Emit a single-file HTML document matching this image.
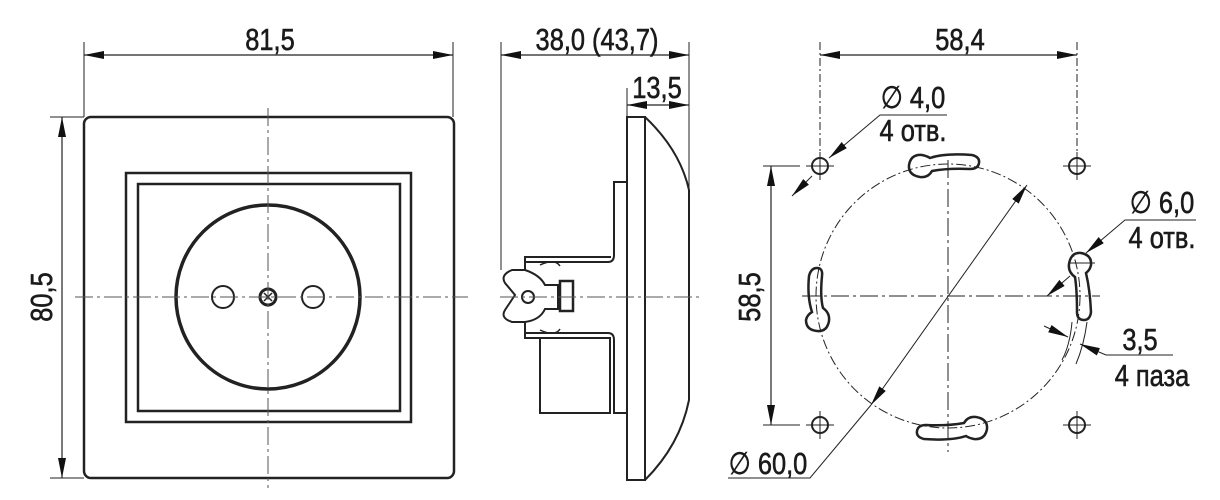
<!DOCTYPE html>
<html><head><meta charset="utf-8"><style>
html,body{margin:0;padding:0;background:#fff;}
svg{display:block;}
text{font-family:"Liberation Sans",sans-serif;fill:#1a1a1a;stroke:#1a1a1a;stroke-width:0.6;}
</style></head><body>
<svg width="1220" height="500" viewBox="0 0 1220 500" xmlns="http://www.w3.org/2000/svg">
<defs>
<marker id="a" viewBox="0 0 20 8" refX="20" refY="4" markerWidth="20" markerHeight="8" markerUnits="userSpaceOnUse" orient="auto-start-reverse"><path d="M0,0 L20,4 L0,8 Z" fill="#111"/></marker>
</defs>
<g stroke="#222" fill="none">
<!-- LEFT VIEW -->
<line x1="84" y1="42" x2="84" y2="117" stroke-width="1"/>
<line x1="453" y1="42" x2="453" y2="117" stroke-width="1"/>
<line x1="84" y1="55" x2="453" y2="55" stroke-width="1.2" marker-start="url(#a)" marker-end="url(#a)"/>
<line x1="50" y1="117" x2="84" y2="117" stroke-width="1"/>
<line x1="50" y1="478" x2="84" y2="478" stroke-width="1"/>
<line x1="62" y1="117" x2="62" y2="478" stroke-width="1.2" marker-start="url(#a)" marker-end="url(#a)"/>
<rect x="84" y="117" width="370" height="361" rx="7" stroke-width="2.5"/>
<rect x="126" y="173" width="285" height="249" stroke-width="2.5"/>
<rect x="138" y="184" width="262" height="227" stroke-width="2.5"/>
<circle cx="268" cy="297" r="92" stroke-width="3.5"/>
<circle cx="223" cy="297" r="11" stroke-width="2"/>
<circle cx="313" cy="297" r="11" stroke-width="2"/>
<circle cx="268" cy="297" r="8" stroke-width="3"/>
<path d="M264,293 L272,301 M272,293 L264,301" stroke-width="1.5"/>
<line x1="268" y1="108" x2="268" y2="488" stroke-width="1" stroke-dasharray="18,4,3,4" stroke="#555"/>
<line x1="75" y1="297" x2="468" y2="297" stroke-width="1" stroke-dasharray="18,4,3,4" stroke="#555"/>

<!-- SIDE VIEW -->
<line x1="501" y1="42" x2="501" y2="270" stroke-width="1"/>
<line x1="689" y1="42" x2="689" y2="190" stroke-width="1"/>
<line x1="627" y1="88" x2="627" y2="117" stroke-width="1"/>
<line x1="501" y1="55" x2="689" y2="55" stroke-width="1.2" marker-start="url(#a)" marker-end="url(#a)"/>
<line x1="627" y1="105" x2="689" y2="105" stroke-width="1.2" marker-start="url(#a)" marker-end="url(#a)"/>
<rect x="627" y="117" width="18" height="363" stroke-width="2"/>
<path d="M645,117 Q680,150 689,190 L689,400 Q680,445 645,480" stroke-width="2"/>
<path d="M627,182 L614,182 L614,255 M614,340 L614,413 L627,413" stroke-width="2"/>
<path d="M614,255 Q614,262 608,262 L525,262 L525,257 L611,257 M614,340 Q614,333 608,333 L525,333 L525,338 L611,338" stroke-width="2"/>
<rect x="540" y="338" width="70" height="75" stroke-width="2"/>
<path d="M525,262 L525,270 L512,270 Q500,275 505,283 L515,295 L505,310 Q500,318 512,322 L525,322 L525,333" stroke-width="2"/>
<path d="M525,270 Q540,275 545,285 L558,285 L558,309 L545,309 Q540,320 525,322" stroke-width="2"/>
<rect x="560" y="281" width="13" height="30" stroke-width="2.5"/>
<circle cx="528" cy="297" r="6" stroke-width="2"/>
<path d="M540,265 Q555,258 560,266 M540,330 Q555,337 560,329" stroke-width="1.5"/>
<line x1="500" y1="297" x2="702" y2="297" stroke-width="1" stroke-dasharray="18,4,3,4" stroke="#555"/>

<!-- RIGHT VIEW -->
<line x1="820" y1="42" x2="820" y2="158" stroke-width="1" stroke-dasharray="8,3,2,3"/>
<line x1="1077" y1="42" x2="1077" y2="158" stroke-width="1" stroke-dasharray="8,3,2,3"/>
<line x1="820" y1="55" x2="1077" y2="55" stroke-width="1.2" marker-start="url(#a)" marker-end="url(#a)"/>
<line x1="763" y1="166" x2="800" y2="166" stroke-width="1"/>
<line x1="763" y1="425" x2="800" y2="425" stroke-width="1"/>
<line x1="771" y1="166" x2="771" y2="425" stroke-width="1.2" marker-start="url(#a)" marker-end="url(#a)"/>
<circle cx="948" cy="296" r="132" stroke-width="1" stroke-dasharray="10,3,2,3"/>
<line x1="948" y1="160" x2="948" y2="452" stroke-width="1" stroke-dasharray="18,4,3,4"/>
<line x1="802" y1="296" x2="1100" y2="296" stroke-width="1" stroke-dasharray="18,4,3,4"/>
<g stroke-width="2">
<circle cx="820" cy="166" r="8"/><circle cx="1077" cy="166" r="8"/>
<circle cx="820" cy="425" r="8"/><circle cx="1077" cy="425" r="8"/>
</g>
<g stroke-width="1">
<path d="M806,166 H834 M820,152 V180 M1063,166 H1091 M1077,152 V180 M806,425 H834 M820,411 V439 M1063,425 H1091 M1077,411 V439"/>
</g>
<!-- slots -->
<g stroke-width="2.5">
<path d="M930,158 Q945,153 972,155 Q980,157 979,163 Q978,169 970,169 Q948,168 932,171 Q928,178 920,177 Q908,175 909,165 Q911,154 922,155 Q927,156 930,158 Z"/>
<path d="M966,436 Q951,441 924,439 Q916,437 917,431 Q918,425 926,425 Q948,426 964,423 Q968,416 976,417 Q988,419 987,429 Q985,440 974,439 Q969,438 966,436 Z"/>
<path d="M812,312 Q807,297 809,276 Q811,268 817,268 Q823,268 822,276 Q820,297 823,308 Q830,313 829,321 Q827,332 817,331 Q806,330 806,320 Q807,315 812,312 Z"/>
<path d="M1086,273 Q1090,290 1091,312 Q1090,320 1084,320 Q1077,320 1077,312 Q1077,290 1075,277 Q1068,272 1069,264 Q1071,252 1081,253 Q1092,255 1091,265 Q1090,270 1086,273 Z"/>
</g>
<path d="M1069,263 H1095 M1072,322 Q1070,345 1062,360 M1087,322 Q1084,345 1076,364" stroke-width="1"/>
<!-- leaders -->
<line x1="1027" y1="185" x2="871" y2="405" stroke-width="1" marker-start="url(#a)" marker-end="url(#a)"/>
<polyline points="871,405 810,478 728,478" stroke-width="1"/>
<polyline points="947,115 880,115 829,158" stroke-width="1" marker-end="url(#a)"/>
<line x1="792" y1="196" x2="812" y2="176" stroke-width="1" marker-start="url(#a)"/>
<polyline points="1196,220 1125,220 1086,253" stroke-width="1" marker-end="url(#a)"/>
<line x1="1047" y1="296" x2="1070" y2="276" stroke-width="1" marker-start="url(#a)"/>
<line x1="1044" y1="326" x2="1068" y2="337" stroke-width="1" marker-end="url(#a)"/>
<polyline points="1173,355 1106,355 1080,344" stroke-width="1" marker-end="url(#a)"/>
</g>
<g font-size="31">
<text x="270" y="50" text-anchor="middle" transform="translate(270,0) scale(0.82,1) translate(-270,0)">81,5</text>
<text x="597" y="50" text-anchor="middle" transform="translate(597,0) scale(0.82,1) translate(-597,0)">38,0 (43,7)</text>
<text x="657" y="98" text-anchor="middle" transform="translate(657,0) scale(0.82,1) translate(-657,0)">13,5</text>
<text x="960" y="50" text-anchor="middle" transform="translate(960,0) scale(0.82,1) translate(-960,0)">58,4</text>
<text transform="translate(52,297) rotate(-90) scale(0.82,1)" text-anchor="middle">80,5</text>
<text transform="translate(760,297) rotate(-90) scale(0.82,1)" text-anchor="middle">58,5</text>
<text x="913" y="108" text-anchor="middle" transform="translate(913,0) scale(0.82,1) translate(-913,0)">∅ 4,0</text>
<text x="913" y="141" text-anchor="middle" transform="translate(913,0) scale(0.82,1) translate(-913,0)">4 отв.</text>
<text x="1162" y="213" text-anchor="middle" transform="translate(1162,0) scale(0.82,1) translate(-1162,0)">∅ 6,0</text>
<text x="1162" y="248" text-anchor="middle" transform="translate(1162,0) scale(0.82,1) translate(-1162,0)">4 отв.</text>
<text x="1140" y="350" text-anchor="middle" transform="translate(1140,0) scale(0.82,1) translate(-1140,0)">3,5</text>
<text x="1152" y="386" text-anchor="middle" transform="translate(1152,0) scale(0.82,1) translate(-1152,0)">4 паза</text>
<text x="768" y="474" text-anchor="middle" transform="translate(768,0) scale(0.82,1) translate(-768,0)">∅ 60,0</text>
</g>
</svg>
</body></html>
